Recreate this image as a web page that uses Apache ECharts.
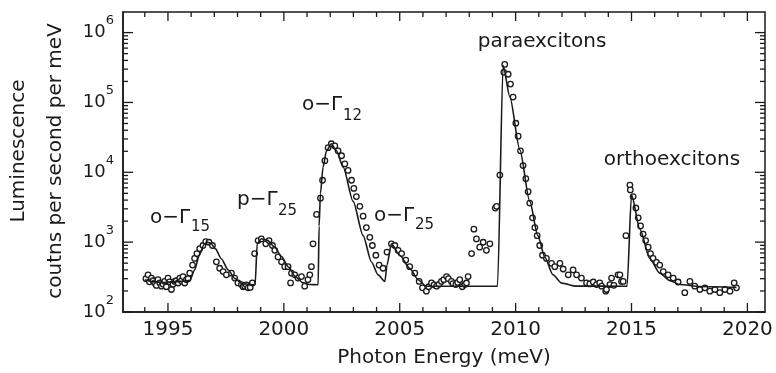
<!DOCTYPE html>
<html>
<head>
<meta charset="utf-8">
<script src="https://cdn.jsdelivr.net/npm/echarts@6/dist/echarts.min.js"></script>
<style>
html, body { margin: 0; background: #fff; }
#container { width: 776px; height: 373px; }
</style>
</head>
<body>
<div id="container"></div>
<script>
var dom = document.getElementById('container');
var myChart = echarts.init(dom, null, { renderer: 'canvas' });

// photon energy (meV) and luminescence (counts per second per meV)
const measured = [
    [1994.05, 300], [1994.14, 341], [1994.20, 270], [1994.29, 306], [1994.36, 280],
    [1994.43, 261], [1994.50, 240], [1994.57, 290], [1994.65, 260], [1994.72, 234],
    [1994.79, 250], [1994.86, 274], [1994.93, 230], [1995.00, 306], [1995.07, 270],
    [1995.15, 210], [1995.22, 250], [1995.29, 274], [1995.36, 280], [1995.44, 260],
    [1995.51, 306], [1995.58, 280], [1995.65, 322], [1995.72, 260], [1995.80, 290],
    [1995.87, 300], [1995.94, 360], [1996.06, 470], [1996.15, 584], [1996.25, 686],
    [1996.37, 806], [1996.51, 896], [1996.63, 1020], [1996.77, 997], [1996.92, 896],
    [1997.09, 523], [1997.23, 423], [1997.38, 379], [1997.52, 341], [1997.74, 360],
    [1997.88, 306], [1998.02, 261], [1998.17, 247], [1998.24, 230], [1998.31, 234],
    [1998.38, 245], [1998.46, 222], [1998.55, 225], [1998.64, 261], [1998.74, 686],
    [1998.89, 1053], [1999.03, 1113], [1999.22, 947], [1999.36, 1053], [1999.51, 896],
    [1999.61, 763], [1999.75, 614], [1999.90, 523], [2000.04, 445], [2000.18, 445],
    [2000.29, 261], [2000.33, 360], [2000.47, 341], [2000.61, 306], [2000.76, 322],
    [2000.90, 234], [2001.04, 290], [2001.12, 341], [2001.19, 445], [2001.26, 947],
    [2001.41, 2491], [2001.58, 4255], [2001.67, 7700], [2001.77, 14680], [2001.91, 22540],
    [2002.05, 25650], [2002.20, 23820], [2002.34, 20270], [2002.49, 17250], [2002.63, 13160],
    [2002.77, 10630], [2002.92, 7700], [2003.02, 5875], [2003.13, 4495], [2003.28, 3255],
    [2003.42, 2358], [2003.56, 1617], [2003.71, 1171], [2003.82, 896], [2003.97, 649],
    [2004.11, 470], [2004.28, 423], [2004.45, 722], [2004.64, 947], [2004.79, 896],
    [2004.93, 763], [2005.08, 686], [2005.26, 553], [2005.43, 445], [2005.65, 360],
    [2005.84, 274], [2005.98, 222], [2006.15, 199], [2006.25, 230], [2006.37, 261],
    [2006.48, 245], [2006.59, 234], [2006.70, 250], [2006.80, 274], [2006.90, 290],
    [2007.02, 322], [2007.10, 300], [2007.23, 274], [2007.30, 255], [2007.42, 247],
    [2007.50, 265], [2007.59, 290], [2007.70, 230], [2007.81, 247], [2007.88, 260],
    [2007.95, 322], [2008.10, 686], [2008.20, 1536], [2008.31, 1113], [2008.45, 848],
    [2008.60, 997], [2008.74, 763], [2008.89, 947], [2009.12, 3080], [2009.18, 3255],
    [2009.32, 9140], [2009.49, 270000], [2009.53, 350000], [2009.68, 253300], [2009.78, 183400],
    [2009.89, 119500], [2010.01, 50420], [2010.11, 32880], [2010.21, 20270], [2010.32, 12500],
    [2010.44, 8110], [2010.54, 5282], [2010.61, 3623], [2010.73, 2233], [2010.83, 1617],
    [2010.93, 1237], [2011.04, 896], [2011.16, 649], [2011.33, 584], [2011.55, 497],
    [2011.69, 445], [2011.91, 497], [2012.05, 413], [2012.27, 341], [2012.48, 400],
    [2012.63, 341], [2012.84, 306], [2013.06, 261], [2013.20, 252], [2013.35, 269],
    [2013.49, 247], [2013.63, 261], [2013.71, 234], [2013.89, 199], [2013.92, 210],
    [2014.07, 247], [2014.14, 306], [2014.24, 241], [2014.42, 341], [2014.50, 341],
    [2014.57, 274], [2014.64, 274], [2014.76, 1237], [2014.93, 6555], [2014.95, 5600],
    [2015.07, 4495], [2015.19, 3082], [2015.29, 2233], [2015.39, 1708], [2015.50, 1307],
    [2015.61, 1053], [2015.72, 848], [2015.82, 686], [2015.93, 584], [2016.08, 513],
    [2016.22, 470], [2016.37, 379], [2016.58, 341], [2016.80, 306], [2017.01, 269],
    [2017.30, 189], [2017.52, 274], [2017.73, 234], [2017.95, 210], [2018.17, 222],
    [2018.38, 199], [2018.60, 210], [2018.81, 189], [2019.03, 210], [2019.25, 199],
    [2019.43, 261], [2019.53, 222]
];

// fitted curve
const fit = [
    [1994.0, 290], [1994.4, 270], [1994.8, 265], [1995.2, 270], [1995.6, 275],
    [1995.95, 285], [1996.15, 400], [1996.35, 650], [1996.55, 920], [1996.7, 1000],
    [1996.85, 960], [1997.05, 800], [1997.3, 580], [1997.6, 400], [1997.9, 300],
    [1998.2, 255], [1998.76, 245], [1998.85, 950], [1999.03, 1120], [1999.3, 1060],
    [1999.6, 850], [1999.9, 620], [2000.2, 440], [2000.5, 320], [2000.8, 265],
    [2001.1, 248], [2001.48, 245], [2001.52, 1700], [2001.58, 5000], [2001.69, 11800],
    [2001.84, 20300], [2002.05, 25600], [2002.27, 20300], [2002.56, 11800], [2002.99, 3830],
    [2003.42, 1240], [2003.78, 520], [2004.07, 340], [2004.36, 274], [2004.45, 470],
    [2004.64, 947], [2005.0, 650], [2005.43, 423], [2005.79, 290], [2006.15, 234],
    [2009.2, 234], [2009.22, 241], [2009.46, 338000], [2009.75, 120500], [2010.18, 21100],
    [2010.61, 3830], [2010.96, 1240], [2011.26, 608], [2011.61, 341], [2011.99, 259],
    [2012.56, 235], [2014.79, 234], [2014.81, 240], [2015.0, 4750], [2015.36, 1540],
    [2015.79, 584], [2016.22, 360], [2016.66, 281], [2017.09, 247], [2017.95, 232],
    [2019.53, 225]
];

const xMajor = [1995, 2000, 2005, 2010, 2015, 2020];
const xMinor = [];
for (let e = 1994; e <= 2020; e++) xMinor.push(e);
const yDecades = [2, 3, 4, 5, 6];
const yMinor = [];
for (let n = 2; n <= 5; n++) {
    for (let k = 2; k <= 9; k++) yMinor.push(Math.log10(k * Math.pow(10, n)));
}

const ink = '#1a1a1a';
const font = 'DejaVu Sans';
const xMin = 1993.06, xMax = 2020.76;
const yMin = 2, yMax = 6.295;

function note(text, x, y, size, align) {
    return {
        type: 'text', x: x, y: y,
        style: {
            text: text, fill: ink, font: size + 'px "DejaVu Sans"',
            textAlign: align || 'left', textVerticalAlign: 'middle'
        }
    };
}

function yName(text, x, y) {
    const t = note(text, x, y, 20, 'center');
    t.rotation = Math.PI / 2;
    return t;
}

// frame and inward ticks on all four sides, placed through the axes' scales
function renderFrame(params, api) {
    const cs = params.coordSys;
    const left = cs.x, right = cs.x + cs.width, top = cs.y, bottom = cs.y + cs.height;
    const st = { stroke: ink, lineWidth: 1.3 };
    const kids = [{
        type: 'rect',
        shape: { x: left, y: top, width: cs.width, height: cs.height },
        style: { fill: 'none', stroke: ink, lineWidth: 1.5 }
    }];
    function xTick(v, len) {
        const px = api.coord([v, yMin])[0];
        kids.push({ type: 'line', shape: { x1: px, y1: bottom, x2: px, y2: bottom - len }, style: st });
        kids.push({ type: 'line', shape: { x1: px, y1: top, x2: px, y2: top + len }, style: st });
    }
    function yTick(v, len) {
        const py = api.coord([xMin, v])[1];
        kids.push({ type: 'line', shape: { x1: left, y1: py, x2: left + len, y2: py }, style: st });
        kids.push({ type: 'line', shape: { x1: right, y1: py, x2: right - len, y2: py }, style: st });
    }
    xMinor.forEach(function (v) { xTick(v, xMajor.indexOf(v) >= 0 ? 9 : 5); });
    yDecades.forEach(function (v) { yTick(v, 10); });
    yMinor.forEach(function (v) { yTick(v, 5); });
    return { type: 'group', children: kids };
}

var option = {
    animation: false,
    grid: { left: 123, right: 11, top: 12, bottom: 55 },
    xAxis: {
        type: 'value', min: xMin, max: xMax,
        axisLine: { show: true, onZero: false, lineStyle: { color: ink, width: 1.5 } },
        axisTick: { show: false },
        axisLabel: {
            customValues: xMajor, fontSize: 20, color: ink, fontFamily: font, margin: 8,
            formatter: function (v) { return String(v); }
        },
        splitLine: { show: false },
        name: 'Photon Energy (meV)',
        nameLocation: 'middle',
        nameGap: 36,
        nameTextStyle: { fontSize: 20, color: ink, fontFamily: font }
    },
    yAxis: {
        type: 'value', min: yMin, max: yMax,
        axisLine: { show: true, onZero: false, lineStyle: { color: ink, width: 1.5 } },
        axisTick: { show: false },
        axisLabel: {
            customValues: yDecades, margin: 9,
            formatter: function (v) { return '{b|10}{s|' + Math.round(v) + '}'; },
            rich: {
                b: { fontSize: 18, lineHeight: 36, color: ink, fontFamily: font },
                s: { fontSize: 13, lineHeight: 13, verticalAlign: 'top', color: ink, fontFamily: font }
            }
        },
        splitLine: { show: false }
    },
    graphic: [
        yName('Luminescence', 19, 151),
        yName('coutns per second per meV', 56, 161),
        note('o\u2212\u0393', 150, 218, 20), note('15', 191, 227, 15),
        note('p\u2212\u0393', 237, 200, 20), note('25', 278, 211, 15),
        note('o\u2212\u0393', 302, 105, 20), note('12', 343, 116, 15),
        note('o\u2212\u0393', 374, 216, 20), note('25', 415, 225, 15),
        note('paraexcitons', 542, 42, 20, 'center'),
        note('orthoexcitons', 672, 160, 20, 'center')
    ],
    series: [
        {
            name: 'frame',
            type: 'custom',
            silent: true,
            clip: false,
            renderItem: renderFrame,
            data: [[xMin, yMin]],
            z: 1
        },
        {
            name: 'fit',
            type: 'line',
            symbol: 'none',
            smooth: 0.25,
            smoothMonotone: 'x',
            lineStyle: { color: ink, width: 1.6 },
            data: fit.map(function (p) { return [p[0], Math.log10(p[1])]; })
        },
        {
            name: 'measured',
            type: 'scatter',
            symbol: 'circle',
            symbolSize: 5.5,
            itemStyle: { color: '#fff', borderColor: ink, borderWidth: 1.3, opacity: 1 },
            data: measured.map(function (p) { return [p[0], Math.log10(p[1])]; })
        }
    ]
};

if (option && typeof option === 'object') {
    myChart.setOption(option);
}

window.addEventListener('resize', myChart.resize);
</script>
</body>
</html>
